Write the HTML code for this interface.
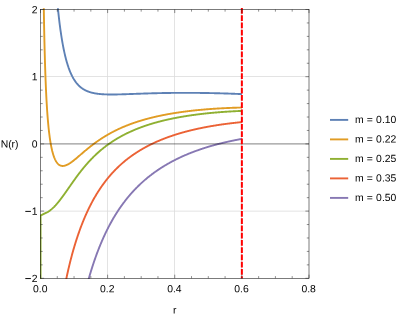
<!DOCTYPE html>
<html><head><meta charset="utf-8"><style>html,body{margin:0;padding:0;background:#fff}body{width:403px;height:319px;position:relative;overflow:hidden;font-family:"Liberation Sans",sans-serif}</style></head><body>
<svg width="403" height="319" viewBox="0 0 403 319" style="position:absolute;left:0;top:0">
<defs><clipPath id="cp"><rect x="40.0" y="8.25" width="269.5" height="270.85"/></clipPath><filter id="gs" x="-5%" y="-5%" width="110%" height="110%" color-interpolation-filters="sRGB"><feColorMatrix type="saturate" values="0"/></filter></defs>
<g stroke="#dcdcdc" stroke-width="0.8"><line x1="107.5" y1="9.45" x2="107.5" y2="278.3"/><line x1="174.5" y1="9.45" x2="174.5" y2="278.3"/><line x1="241.5" y1="9.45" x2="241.5" y2="278.3"/><line x1="40.5" y1="76.5" x2="309.0" y2="76.5"/><line x1="40.5" y1="211.15" x2="309.0" y2="211.15"/></g>
<g clip-path="url(#cp)">
<path d="M40.50,-57.70 L53.06,-57.70 L53.34,-55.87 L53.62,-50.55 L53.90,-45.47 L54.17,-40.60 L54.45,-35.95 L54.73,-31.50 L55.01,-27.23 L55.29,-23.13 L55.57,-19.21 L55.84,-15.44 L56.12,-11.82 L56.40,-8.34 L56.68,-5.00 L56.96,-1.79 L57.24,1.31 L57.52,4.29 L57.79,7.16 L58.07,9.92 L58.35,12.58 L58.63,15.15 L58.91,17.63 L59.19,20.02 L59.46,22.32 L59.74,24.55 L60.02,26.70 L60.30,28.78 L60.58,30.78 L60.86,32.72 L61.14,34.60 L61.41,36.41 L61.69,38.16 L61.97,39.86 L62.25,41.50 L62.53,43.09 L62.81,44.62 L63.08,46.11 L63.36,47.55 L63.64,48.95 L63.92,50.30 L64.20,51.61 L64.48,52.87 L64.76,54.10 L65.03,55.29 L65.31,56.45 L65.59,57.57 L65.87,58.65 L66.15,59.70 L66.43,60.72 L66.70,61.71 L66.98,62.67 L67.26,63.60 L67.54,64.51 L67.82,65.38 L68.10,66.23 L68.38,67.06 L68.65,67.86 L68.93,68.63 L69.21,69.39 L69.49,70.12 L69.77,70.83 L70.05,71.52 L70.32,72.19 L70.60,72.84 L70.88,73.47 L71.16,74.09 L71.44,74.68 L71.72,75.26 L72.00,75.82 L72.27,76.37 L72.55,76.90 L72.83,77.42 L73.11,77.92 L73.39,78.40 L73.67,78.87 L73.94,79.33 L74.22,79.78 L74.50,80.21 L74.78,80.63 L75.06,81.04 L75.34,81.44 L75.62,81.83 L75.89,82.20 L76.17,82.57 L76.45,82.92 L76.73,83.27 L77.01,83.60 L77.29,83.93 L77.56,84.25 L77.84,84.55 L78.12,84.85 L78.40,85.14 L78.68,85.43 L78.96,85.70 L79.24,85.97 L79.51,86.23 L79.79,86.48 L80.07,86.73 L80.35,86.97 L80.63,87.20 L80.91,87.42 L81.18,87.64 L81.46,87.86 L81.74,88.06 L82.02,88.27 L82.30,88.46 L82.58,88.65 L82.86,88.84 L83.13,89.02 L83.41,89.19 L83.69,89.36 L83.97,89.53 L84.25,89.69 L84.53,89.84 L84.80,90.00 L85.08,90.14 L85.36,90.29 L85.64,90.43 L85.92,90.56 L86.20,90.69 L86.48,90.82 L86.75,90.94 L87.03,91.06 L87.31,91.18 L87.59,91.30 L87.87,91.41 L88.15,91.51 L88.43,91.62 L88.70,91.72 L88.98,91.82 L89.26,91.91 L89.54,92.01 L89.82,92.10 L90.10,92.18 L90.37,92.27 L90.65,92.35 L90.93,92.43 L91.21,92.51 L91.49,92.58 L91.77,92.66 L92.05,92.73 L92.32,92.80 L92.60,92.86 L92.88,92.93 L93.16,92.99 L93.44,93.05 L93.72,93.11 L93.99,93.17 L94.27,93.22 L94.55,93.28 L94.83,93.33 L95.11,93.38 L95.39,93.43 L95.67,93.47 L95.94,93.52 L96.22,93.56 L96.50,93.61 L96.78,93.65 L97.06,93.69 L97.34,93.72 L97.61,93.76 L97.89,93.80 L98.17,93.83 L98.45,93.86 L98.73,93.90 L99.01,93.93 L99.29,93.96 L99.56,93.99 L99.84,94.01 L100.12,94.04 L100.40,94.07 L100.68,94.09 L100.96,94.11 L101.23,94.14 L101.51,94.16 L101.79,94.18 L102.07,94.20 L102.35,94.22 L102.63,94.24 L102.91,94.25 L103.18,94.27 L103.46,94.29 L103.74,94.30 L104.02,94.32 L104.30,94.33 L104.58,94.34 L104.85,94.36 L105.13,94.37 L105.41,94.38 L105.69,94.39 L105.97,94.40 L106.25,94.41 L106.53,94.42 L106.80,94.42 L107.08,94.43 L107.36,94.44 L107.64,94.45 L107.92,94.45 L108.20,94.46 L108.47,94.46 L108.75,94.47 L109.03,94.47 L109.31,94.47 L109.59,94.48 L109.87,94.48 L110.15,94.48 L110.42,94.48 L110.70,94.49 L110.98,94.49 L111.26,94.49 L111.54,94.49 L111.82,94.49 L112.09,94.49 L112.37,94.49 L112.65,94.49 L112.93,94.48 L113.21,94.48 L113.49,94.48 L113.77,94.48 L114.04,94.48 L114.32,94.47 L114.60,94.47 L114.88,94.47 L115.16,94.46 L115.44,94.46 L115.71,94.46 L115.99,94.45 L116.27,94.45 L116.55,94.44 L116.83,94.44 L117.11,94.43 L117.39,94.43 L117.66,94.42 L117.94,94.42 L118.22,94.41 L118.50,94.40 L118.78,94.40 L119.06,94.39 L119.33,94.38 L119.61,94.38 L119.89,94.37 L120.17,94.36 L120.45,94.36 L120.73,94.35 L121.01,94.34 L121.28,94.33 L121.56,94.33 L121.84,94.32 L122.12,94.31 L122.40,94.30 L122.68,94.29 L122.95,94.29 L123.23,94.28 L123.51,94.27 L123.79,94.26 L124.07,94.25 L124.35,94.24 L124.63,94.23 L124.90,94.22 L125.18,94.22 L125.46,94.21 L125.74,94.20 L126.02,94.19 L126.30,94.18 L126.57,94.17 L126.85,94.16 L127.13,94.15 L127.41,94.14 L127.69,94.13 L127.97,94.12 L128.25,94.11 L128.52,94.10 L128.80,94.09 L129.08,94.08 L129.36,94.07 L129.64,94.06 L129.92,94.05 L130.19,94.04 L130.47,94.03 L130.75,94.02 L131.03,94.01 L131.31,94.00 L131.59,93.99 L131.87,93.99 L132.14,93.98 L132.42,93.97 L132.70,93.96 L132.98,93.94 L133.26,93.93 L133.54,93.92 L133.82,93.91 L134.09,93.90 L134.37,93.89 L134.65,93.88 L134.93,93.87 L135.21,93.86 L135.49,93.85 L135.76,93.84 L136.04,93.83 L136.32,93.82 L136.60,93.81 L136.88,93.80 L137.16,93.79 L137.44,93.78 L137.71,93.78 L137.99,93.77 L138.27,93.76 L138.55,93.75 L138.83,93.74 L139.11,93.73 L139.38,93.72 L139.66,93.71 L139.94,93.70 L140.22,93.69 L140.50,93.68 L140.78,93.67 L141.06,93.66 L141.33,93.65 L141.61,93.64 L141.89,93.63 L142.17,93.62 L142.45,93.61 L142.73,93.60 L143.00,93.59 L143.28,93.58 L143.56,93.57 L143.84,93.56 L144.12,93.55 L144.40,93.55 L144.68,93.54 L144.95,93.53 L145.23,93.52 L145.51,93.51 L145.79,93.50 L146.07,93.49 L146.35,93.48 L146.62,93.47 L146.90,93.46 L147.18,93.46 L147.46,93.45 L147.74,93.44 L148.02,93.43 L148.30,93.42 L148.57,93.41 L148.85,93.40 L149.13,93.40 L149.41,93.39 L149.69,93.38 L149.97,93.37 L150.24,93.36 L150.52,93.36 L150.80,93.35 L151.08,93.34 L151.36,93.33 L151.64,93.32 L151.92,93.32 L152.19,93.31 L152.47,93.30 L152.75,93.29 L153.03,93.29 L153.31,93.28 L153.59,93.27 L153.86,93.26 L154.14,93.26 L154.42,93.25 L154.70,93.24 L154.98,93.23 L155.26,93.23 L155.54,93.22 L155.81,93.21 L156.09,93.21 L156.37,93.20 L156.65,93.19 L156.93,93.18 L157.21,93.18 L157.48,93.17 L157.76,93.16 L158.04,93.16 L158.32,93.15 L158.60,93.15 L158.88,93.14 L159.16,93.13 L159.43,93.13 L159.71,93.12 L159.99,93.11 L160.27,93.11 L160.55,93.10 L160.83,93.10 L161.10,93.09 L161.38,93.08 L161.66,93.08 L161.94,93.07 L162.22,93.07 L162.50,93.06 L162.78,93.06 L163.05,93.05 L163.33,93.05 L163.61,93.04 L163.89,93.04 L164.17,93.03 L164.45,93.03 L164.72,93.02 L165.00,93.02 L165.28,93.01 L165.56,93.01 L165.84,93.00 L166.12,93.00 L166.40,92.99 L166.67,92.99 L166.95,92.98 L167.23,92.98 L167.51,92.97 L167.79,92.97 L168.07,92.97 L168.34,92.96 L168.62,92.96 L168.90,92.95 L169.18,92.95 L169.46,92.95 L169.74,92.94 L170.02,92.94 L170.29,92.93 L170.57,92.93 L170.85,92.93 L171.13,92.92 L171.41,92.92 L171.69,92.92 L171.96,92.91 L172.24,92.91 L172.52,92.91 L172.80,92.90 L173.08,92.90 L173.36,92.90 L173.64,92.90 L173.91,92.89 L174.19,92.89 L174.47,92.89 L174.75,92.88 L175.03,92.88 L175.31,92.88 L175.59,92.88 L175.86,92.87 L176.14,92.87 L176.42,92.87 L176.70,92.87 L176.98,92.87 L177.26,92.86 L177.53,92.86 L177.81,92.86 L178.09,92.86 L178.37,92.86 L178.65,92.86 L178.93,92.85 L179.21,92.85 L179.48,92.85 L179.76,92.85 L180.04,92.85 L180.32,92.85 L180.60,92.85 L180.88,92.84 L181.15,92.84 L181.43,92.84 L181.71,92.84 L181.99,92.84 L182.27,92.84 L182.55,92.84 L182.83,92.84 L183.10,92.84 L183.38,92.84 L183.66,92.84 L183.94,92.84 L184.22,92.84 L184.50,92.84 L184.77,92.84 L185.05,92.84 L185.33,92.84 L185.61,92.84 L185.89,92.84 L186.17,92.84 L186.45,92.84 L186.72,92.84 L187.00,92.84 L187.28,92.84 L187.56,92.84 L187.84,92.84 L188.12,92.84 L188.39,92.84 L188.67,92.84 L188.95,92.84 L189.23,92.84 L189.51,92.84 L189.79,92.84 L190.07,92.84 L190.34,92.85 L190.62,92.85 L190.90,92.85 L191.18,92.85 L191.46,92.85 L191.74,92.85 L192.01,92.85 L192.29,92.86 L192.57,92.86 L192.85,92.86 L193.13,92.86 L193.41,92.86 L193.69,92.86 L193.96,92.87 L194.24,92.87 L194.52,92.87 L194.80,92.87 L195.08,92.87 L195.36,92.88 L195.63,92.88 L195.91,92.88 L196.19,92.88 L196.47,92.89 L196.75,92.89 L197.03,92.89 L197.31,92.89 L197.58,92.90 L197.86,92.90 L198.14,92.90 L198.42,92.91 L198.70,92.91 L198.98,92.91 L199.25,92.92 L199.53,92.92 L199.81,92.92 L200.09,92.93 L200.37,92.93 L200.65,92.93 L200.93,92.94 L201.20,92.94 L201.48,92.94 L201.76,92.95 L202.04,92.95 L202.32,92.95 L202.60,92.96 L202.87,92.96 L203.15,92.97 L203.43,92.97 L203.71,92.97 L203.99,92.98 L204.27,92.98 L204.55,92.99 L204.82,92.99 L205.10,93.00 L205.38,93.00 L205.66,93.01 L205.94,93.01 L206.22,93.01 L206.49,93.02 L206.77,93.02 L207.05,93.03 L207.33,93.03 L207.61,93.04 L207.89,93.04 L208.17,93.05 L208.44,93.05 L208.72,93.06 L209.00,93.07 L209.28,93.07 L209.56,93.08 L209.84,93.08 L210.11,93.09 L210.39,93.09 L210.67,93.10 L210.95,93.10 L211.23,93.11 L211.51,93.12 L211.79,93.12 L212.06,93.13 L212.34,93.13 L212.62,93.14 L212.90,93.15 L213.18,93.15 L213.46,93.16 L213.73,93.17 L214.01,93.17 L214.29,93.18 L214.57,93.18 L214.85,93.19 L215.13,93.20 L215.41,93.20 L215.68,93.21 L215.96,93.22 L216.24,93.22 L216.52,93.23 L216.80,93.24 L217.08,93.25 L217.35,93.25 L217.63,93.26 L217.91,93.27 L218.19,93.27 L218.47,93.28 L218.75,93.29 L219.03,93.30 L219.30,93.30 L219.58,93.31 L219.86,93.32 L220.14,93.33 L220.42,93.33 L220.70,93.34 L220.98,93.35 L221.25,93.36 L221.53,93.37 L221.81,93.37 L222.09,93.38 L222.37,93.39 L222.65,93.40 L222.92,93.41 L223.20,93.42 L223.48,93.42 L223.76,93.43 L224.04,93.44 L224.32,93.45 L224.60,93.46 L224.87,93.47 L225.15,93.48 L225.43,93.48 L225.71,93.49 L225.99,93.50 L226.27,93.51 L226.54,93.52 L226.82,93.53 L227.10,93.54 L227.38,93.55 L227.66,93.56 L227.94,93.57 L228.22,93.57 L228.49,93.58 L228.77,93.59 L229.05,93.60 L229.33,93.61 L229.61,93.62 L229.89,93.63 L230.16,93.64 L230.44,93.65 L230.72,93.66 L231.00,93.67 L231.28,93.68 L231.56,93.69 L231.84,93.70 L232.11,93.71 L232.39,93.72 L232.67,93.73 L232.95,93.74 L233.23,93.75 L233.51,93.76 L233.78,93.77 L234.06,93.78 L234.34,93.79 L234.62,93.80 L234.90,93.81 L235.18,93.83 L235.46,93.84 L235.73,93.85 L236.01,93.86 L236.29,93.87 L236.57,93.88 L236.85,93.89 L237.13,93.90 L237.40,93.91 L237.68,93.92 L237.96,93.93 L238.24,93.95 L238.52,93.96 L238.80,93.97 L239.08,93.98 L239.35,93.99 L239.63,94.00 L239.91,94.01 L240.19,94.03 L240.47,94.04 L240.75,94.05 L241.02,94.06 L241.30,94.07 L241.58,94.09 L241.86,94.10" fill="none" stroke="#5e81b5" stroke-width="1.9" stroke-linejoin="miter"/>
<path d="M40.50,-57.70 L42.96,-57.70 L42.99,-57.51 L43.03,-53.41 L43.07,-49.38 L43.11,-45.41 L43.15,-41.50 L43.19,-37.65 L43.23,-33.85 L43.27,-30.12 L43.32,-26.44 L43.36,-22.82 L43.40,-19.25 L43.45,-15.74 L43.49,-12.28 L43.54,-8.87 L43.59,-5.52 L43.63,-2.22 L43.68,1.04 L43.73,4.24 L43.78,7.39 L43.83,10.50 L43.88,13.56 L43.93,16.57 L43.99,19.53 L44.04,22.45 L44.09,25.32 L44.15,28.15 L44.21,30.94 L44.26,33.69 L44.32,36.39 L44.38,39.05 L44.44,41.67 L44.50,44.24 L44.56,46.78 L44.62,49.28 L44.69,51.74 L44.75,54.16 L44.82,56.55 L44.88,58.90 L44.95,61.21 L45.02,63.48 L45.09,65.72 L45.16,67.92 L45.23,70.09 L45.30,72.23 L45.37,74.33 L45.45,76.40 L45.53,78.44 L45.60,80.44 L45.68,82.41 L45.76,84.36 L45.84,86.27 L45.92,88.15 L46.01,90.00 L46.09,91.82 L46.18,93.61 L46.26,95.37 L46.35,97.10 L46.44,98.81 L46.53,100.48 L46.63,102.13 L46.72,103.76 L46.82,105.35 L46.91,106.92 L47.01,108.47 L47.11,109.99 L47.21,111.48 L47.49,115.34 L47.77,118.89 L48.05,122.16 L48.33,125.18 L48.60,127.98 L48.88,130.57 L49.16,132.98 L49.44,135.21 L49.72,137.30 L50.00,139.25 L50.28,141.07 L50.55,142.77 L50.83,144.36 L51.11,145.86 L51.39,147.25 L51.67,148.57 L51.95,149.80 L52.22,150.96 L52.50,152.04 L52.78,153.06 L53.06,154.02 L53.34,154.92 L53.62,155.77 L53.90,156.57 L54.17,157.32 L54.45,158.02 L54.73,158.68 L55.01,159.30 L55.29,159.88 L55.57,160.42 L55.84,160.93 L56.12,161.40 L56.40,161.85 L56.68,162.26 L56.96,162.65 L57.24,163.00 L57.52,163.34 L57.79,163.64 L58.07,163.93 L58.35,164.19 L58.63,164.43 L58.91,164.65 L59.19,164.85 L59.46,165.03 L59.74,165.19 L60.02,165.33 L60.30,165.46 L60.58,165.57 L60.86,165.66 L61.14,165.74 L61.41,165.81 L61.69,165.86 L61.97,165.90 L62.25,165.93 L62.53,165.94 L62.81,165.95 L63.08,165.94 L63.36,165.92 L63.64,165.89 L63.92,165.85 L64.20,165.80 L64.48,165.74 L64.76,165.68 L65.03,165.60 L65.31,165.52 L65.59,165.43 L65.87,165.33 L66.15,165.22 L66.43,165.11 L66.70,164.99 L66.98,164.86 L67.26,164.73 L67.54,164.59 L67.82,164.45 L68.10,164.30 L68.38,164.14 L68.65,163.98 L68.93,163.82 L69.21,163.65 L69.49,163.48 L69.77,163.30 L70.05,163.12 L70.32,162.93 L70.60,162.74 L70.88,162.55 L71.16,162.35 L71.44,162.16 L71.72,161.95 L72.00,161.75 L72.27,161.54 L72.55,161.33 L72.83,161.12 L73.11,160.91 L73.39,160.69 L73.67,160.47 L73.94,160.25 L74.22,160.03 L74.50,159.81 L74.78,159.58 L75.06,159.35 L75.34,159.13 L75.62,158.90 L75.89,158.67 L76.17,158.43 L76.45,158.20 L76.73,157.97 L77.01,157.73 L77.29,157.50 L77.56,157.26 L77.84,157.02 L78.12,156.79 L78.40,156.55 L78.68,156.31 L78.96,156.07 L79.24,155.84 L79.51,155.60 L79.79,155.36 L80.07,155.12 L80.35,154.88 L80.63,154.64 L80.91,154.40 L81.18,154.16 L81.46,153.92 L81.74,153.68 L82.02,153.44 L82.30,153.21 L82.58,152.97 L82.86,152.73 L83.13,152.49 L83.41,152.26 L83.69,152.02 L83.97,151.78 L84.25,151.55 L84.53,151.31 L84.80,151.08 L85.08,150.84 L85.36,150.61 L85.64,150.38 L85.92,150.15 L86.20,149.91 L86.48,149.68 L86.75,149.45 L87.03,149.22 L87.31,148.99 L87.59,148.77 L87.87,148.54 L88.15,148.31 L88.43,148.09 L88.70,147.86 L88.98,147.64 L89.26,147.42 L89.54,147.19 L89.82,146.97 L90.10,146.75 L90.37,146.53 L90.65,146.31 L90.93,146.09 L91.21,145.88 L91.49,145.66 L91.77,145.45 L92.05,145.23 L92.32,145.02 L92.60,144.81 L92.88,144.59 L93.16,144.38 L93.44,144.17 L93.72,143.97 L93.99,143.76 L94.27,143.55 L94.55,143.34 L94.83,143.14 L95.11,142.94 L95.39,142.73 L95.67,142.53 L95.94,142.33 L96.22,142.13 L96.50,141.93 L96.78,141.73 L97.06,141.54 L97.34,141.34 L97.61,141.14 L97.89,140.95 L98.17,140.76 L98.45,140.57 L98.73,140.37 L99.01,140.18 L99.29,139.99 L99.56,139.81 L99.84,139.62 L100.12,139.43 L100.40,139.25 L100.68,139.06 L100.96,138.88 L101.23,138.70 L101.51,138.51 L101.79,138.33 L102.07,138.15 L102.35,137.98 L102.63,137.80 L102.91,137.62 L103.18,137.44 L103.46,137.27 L103.74,137.10 L104.02,136.92 L104.30,136.75 L104.58,136.58 L104.85,136.41 L105.13,136.24 L105.41,136.07 L105.69,135.90 L105.97,135.74 L106.25,135.57 L106.53,135.41 L106.80,135.24 L107.08,135.08 L107.36,134.92 L107.64,134.75 L107.92,134.59 L108.20,134.43 L108.47,134.28 L108.75,134.12 L109.03,133.96 L109.31,133.80 L109.59,133.65 L109.87,133.49 L110.15,133.34 L110.42,133.19 L110.70,133.04 L110.98,132.88 L111.26,132.73 L111.54,132.58 L111.82,132.44 L112.09,132.29 L112.37,132.14 L112.65,131.99 L112.93,131.85 L113.21,131.70 L113.49,131.56 L113.77,131.42 L114.04,131.27 L114.32,131.13 L114.60,130.99 L114.88,130.85 L115.16,130.71 L115.44,130.57 L115.71,130.44 L115.99,130.30 L116.27,130.16 L116.55,130.03 L116.83,129.89 L117.11,129.76 L117.39,129.63 L117.66,129.49 L117.94,129.36 L118.22,129.23 L118.50,129.10 L118.78,128.97 L119.06,128.84 L119.33,128.71 L119.61,128.58 L119.89,128.46 L120.17,128.33 L120.45,128.21 L120.73,128.08 L121.01,127.96 L121.28,127.83 L121.56,127.71 L121.84,127.59 L122.12,127.47 L122.40,127.35 L122.68,127.23 L122.95,127.11 L123.23,126.99 L123.51,126.87 L123.79,126.75 L124.07,126.64 L124.35,126.52 L124.63,126.40 L124.90,126.29 L125.18,126.17 L125.46,126.06 L125.74,125.95 L126.02,125.83 L126.30,125.72 L126.57,125.61 L126.85,125.50 L127.13,125.39 L127.41,125.28 L127.69,125.17 L127.97,125.06 L128.25,124.96 L128.52,124.85 L128.80,124.74 L129.08,124.64 L129.36,124.53 L129.64,124.42 L129.92,124.32 L130.19,124.22 L130.47,124.11 L130.75,124.01 L131.03,123.91 L131.31,123.81 L131.59,123.71 L131.87,123.61 L132.14,123.51 L132.42,123.41 L132.70,123.31 L132.98,123.21 L133.26,123.11 L133.54,123.01 L133.82,122.92 L134.09,122.82 L134.37,122.72 L134.65,122.63 L134.93,122.53 L135.21,122.44 L135.49,122.35 L135.76,122.25 L136.04,122.16 L136.32,122.07 L136.60,121.98 L136.88,121.88 L137.16,121.79 L137.44,121.70 L137.71,121.61 L137.99,121.52 L138.27,121.44 L138.55,121.35 L138.83,121.26 L139.11,121.17 L139.38,121.08 L139.66,121.00 L139.94,120.91 L140.22,120.83 L140.50,120.74 L140.78,120.66 L141.06,120.57 L141.33,120.49 L141.61,120.40 L141.89,120.32 L142.17,120.24 L142.45,120.16 L142.73,120.07 L143.00,119.99 L143.28,119.91 L143.56,119.83 L143.84,119.75 L144.12,119.67 L144.40,119.59 L144.68,119.51 L144.95,119.44 L145.23,119.36 L145.51,119.28 L145.79,119.20 L146.07,119.13 L146.35,119.05 L146.62,118.97 L146.90,118.90 L147.18,118.82 L147.46,118.75 L147.74,118.68 L148.02,118.60 L148.30,118.53 L148.57,118.45 L148.85,118.38 L149.13,118.31 L149.41,118.24 L149.69,118.17 L149.97,118.09 L150.24,118.02 L150.52,117.95 L150.80,117.88 L151.08,117.81 L151.36,117.74 L151.64,117.67 L151.92,117.61 L152.19,117.54 L152.47,117.47 L152.75,117.40 L153.03,117.33 L153.31,117.27 L153.59,117.20 L153.86,117.13 L154.14,117.07 L154.42,117.00 L154.70,116.94 L154.98,116.87 L155.26,116.81 L155.54,116.74 L155.81,116.68 L156.09,116.62 L156.37,116.55 L156.65,116.49 L156.93,116.43 L157.21,116.37 L157.48,116.30 L157.76,116.24 L158.04,116.18 L158.32,116.12 L158.60,116.06 L158.88,116.00 L159.16,115.94 L159.43,115.88 L159.71,115.82 L159.99,115.76 L160.27,115.70 L160.55,115.65 L160.83,115.59 L161.10,115.53 L161.38,115.47 L161.66,115.41 L161.94,115.36 L162.22,115.30 L162.50,115.25 L162.78,115.19 L163.05,115.13 L163.33,115.08 L163.61,115.02 L163.89,114.97 L164.17,114.91 L164.45,114.86 L164.72,114.81 L165.00,114.75 L165.28,114.70 L165.56,114.65 L165.84,114.59 L166.12,114.54 L166.40,114.49 L166.67,114.44 L166.95,114.38 L167.23,114.33 L167.51,114.28 L167.79,114.23 L168.07,114.18 L168.34,114.13 L168.62,114.08 L168.90,114.03 L169.18,113.98 L169.46,113.93 L169.74,113.88 L170.02,113.83 L170.29,113.78 L170.57,113.74 L170.85,113.69 L171.13,113.64 L171.41,113.59 L171.69,113.55 L171.96,113.50 L172.24,113.45 L172.52,113.41 L172.80,113.36 L173.08,113.31 L173.36,113.27 L173.64,113.22 L173.91,113.18 L174.19,113.13 L174.47,113.09 L174.75,113.04 L175.03,113.00 L175.31,112.95 L175.59,112.91 L175.86,112.87 L176.14,112.82 L176.42,112.78 L176.70,112.74 L176.98,112.70 L177.26,112.65 L177.53,112.61 L177.81,112.57 L178.09,112.53 L178.37,112.49 L178.65,112.45 L178.93,112.40 L179.21,112.36 L179.48,112.32 L179.76,112.28 L180.04,112.24 L180.32,112.20 L180.60,112.16 L180.88,112.12 L181.15,112.08 L181.43,112.05 L181.71,112.01 L181.99,111.97 L182.27,111.93 L182.55,111.89 L182.83,111.85 L183.10,111.82 L183.38,111.78 L183.66,111.74 L183.94,111.70 L184.22,111.67 L184.50,111.63 L184.77,111.59 L185.05,111.56 L185.33,111.52 L185.61,111.49 L185.89,111.45 L186.17,111.41 L186.45,111.38 L186.72,111.34 L187.00,111.31 L187.28,111.27 L187.56,111.24 L187.84,111.21 L188.12,111.17 L188.39,111.14 L188.67,111.10 L188.95,111.07 L189.23,111.04 L189.51,111.00 L189.79,110.97 L190.07,110.94 L190.34,110.91 L190.62,110.87 L190.90,110.84 L191.18,110.81 L191.46,110.78 L191.74,110.75 L192.01,110.72 L192.29,110.68 L192.57,110.65 L192.85,110.62 L193.13,110.59 L193.41,110.56 L193.69,110.53 L193.96,110.50 L194.24,110.47 L194.52,110.44 L194.80,110.41 L195.08,110.38 L195.36,110.35 L195.63,110.32 L195.91,110.30 L196.19,110.27 L196.47,110.24 L196.75,110.21 L197.03,110.18 L197.31,110.15 L197.58,110.13 L197.86,110.10 L198.14,110.07 L198.42,110.04 L198.70,110.02 L198.98,109.99 L199.25,109.96 L199.53,109.94 L199.81,109.91 L200.09,109.88 L200.37,109.86 L200.65,109.83 L200.93,109.81 L201.20,109.78 L201.48,109.75 L201.76,109.73 L202.04,109.70 L202.32,109.68 L202.60,109.65 L202.87,109.63 L203.15,109.60 L203.43,109.58 L203.71,109.56 L203.99,109.53 L204.27,109.51 L204.55,109.48 L204.82,109.46 L205.10,109.44 L205.38,109.41 L205.66,109.39 L205.94,109.37 L206.22,109.35 L206.49,109.32 L206.77,109.30 L207.05,109.28 L207.33,109.26 L207.61,109.23 L207.89,109.21 L208.17,109.19 L208.44,109.17 L208.72,109.15 L209.00,109.13 L209.28,109.11 L209.56,109.08 L209.84,109.06 L210.11,109.04 L210.39,109.02 L210.67,109.00 L210.95,108.98 L211.23,108.96 L211.51,108.94 L211.79,108.92 L212.06,108.90 L212.34,108.88 L212.62,108.86 L212.90,108.84 L213.18,108.82 L213.46,108.81 L213.73,108.79 L214.01,108.77 L214.29,108.75 L214.57,108.73 L214.85,108.71 L215.13,108.70 L215.41,108.68 L215.68,108.66 L215.96,108.64 L216.24,108.62 L216.52,108.61 L216.80,108.59 L217.08,108.57 L217.35,108.56 L217.63,108.54 L217.91,108.52 L218.19,108.50 L218.47,108.49 L218.75,108.47 L219.03,108.46 L219.30,108.44 L219.58,108.42 L219.86,108.41 L220.14,108.39 L220.42,108.38 L220.70,108.36 L220.98,108.35 L221.25,108.33 L221.53,108.32 L221.81,108.30 L222.09,108.29 L222.37,108.27 L222.65,108.26 L222.92,108.24 L223.20,108.23 L223.48,108.21 L223.76,108.20 L224.04,108.19 L224.32,108.17 L224.60,108.16 L224.87,108.14 L225.15,108.13 L225.43,108.12 L225.71,108.10 L225.99,108.09 L226.27,108.08 L226.54,108.07 L226.82,108.05 L227.10,108.04 L227.38,108.03 L227.66,108.02 L227.94,108.00 L228.22,107.99 L228.49,107.98 L228.77,107.97 L229.05,107.96 L229.33,107.94 L229.61,107.93 L229.89,107.92 L230.16,107.91 L230.44,107.90 L230.72,107.89 L231.00,107.88 L231.28,107.87 L231.56,107.86 L231.84,107.84 L232.11,107.83 L232.39,107.82 L232.67,107.81 L232.95,107.80 L233.23,107.79 L233.51,107.78 L233.78,107.77 L234.06,107.76 L234.34,107.75 L234.62,107.75 L234.90,107.74 L235.18,107.73 L235.46,107.72 L235.73,107.71 L236.01,107.70 L236.29,107.69 L236.57,107.68 L236.85,107.67 L237.13,107.66 L237.40,107.66 L237.68,107.65 L237.96,107.64 L238.24,107.63 L238.52,107.62 L238.80,107.62 L239.08,107.61 L239.35,107.60 L239.63,107.59 L239.91,107.59 L240.19,107.58 L240.47,107.57 L240.75,107.56 L241.02,107.56 L241.30,107.55 L241.58,107.54 L241.86,107.54" fill="none" stroke="#e19c24" stroke-width="1.9" stroke-linejoin="miter"/>
<path d="M40.55,291.74 L40.55,215.60 L40.90,215.40 L45.87,212.93 L46.02,212.86 L46.17,212.80 L46.32,212.73 L46.47,212.66 L46.62,212.59 L46.76,212.51 L46.91,212.44 L47.06,212.36 L47.21,212.28 L47.49,212.13 L47.77,211.97 L48.05,211.81 L48.33,211.64 L48.60,211.46 L48.88,211.28 L49.16,211.09 L49.44,210.90 L49.72,210.70 L50.00,210.49 L50.28,210.28 L50.55,210.07 L50.83,209.85 L51.11,209.62 L51.39,209.39 L51.67,209.15 L51.95,208.91 L52.22,208.66 L52.50,208.41 L52.78,208.15 L53.06,207.89 L53.34,207.62 L53.62,207.35 L53.90,207.08 L54.17,206.80 L54.45,206.51 L54.73,206.22 L55.01,205.93 L55.29,205.63 L55.57,205.33 L55.84,205.02 L56.12,204.71 L56.40,204.40 L56.68,204.08 L56.96,203.75 L57.24,203.43 L57.52,203.10 L57.79,202.77 L58.07,202.43 L58.35,202.09 L58.63,201.75 L58.91,201.40 L59.19,201.05 L59.46,200.70 L59.74,200.35 L60.02,199.99 L60.30,199.63 L60.58,199.26 L60.86,198.90 L61.14,198.53 L61.41,198.16 L61.69,197.79 L61.97,197.41 L62.25,197.04 L62.53,196.66 L62.81,196.28 L63.08,195.90 L63.36,195.51 L63.64,195.13 L63.92,194.74 L64.20,194.35 L64.48,193.96 L64.76,193.57 L65.03,193.18 L65.31,192.79 L65.59,192.39 L65.87,192.00 L66.15,191.60 L66.43,191.20 L66.70,190.81 L66.98,190.41 L67.26,190.01 L67.54,189.61 L67.82,189.21 L68.10,188.81 L68.38,188.41 L68.65,188.01 L68.93,187.61 L69.21,187.21 L69.49,186.81 L69.77,186.41 L70.05,186.02 L70.32,185.62 L70.60,185.22 L70.88,184.82 L71.16,184.42 L71.44,184.02 L71.72,183.63 L72.00,183.23 L72.27,182.84 L72.55,182.44 L72.83,182.05 L73.11,181.65 L73.39,181.26 L73.67,180.87 L73.94,180.48 L74.22,180.09 L74.50,179.70 L74.78,179.32 L75.06,178.93 L75.34,178.55 L75.62,178.16 L75.89,177.78 L76.17,177.40 L76.45,177.02 L76.73,176.64 L77.01,176.26 L77.29,175.89 L77.56,175.52 L77.84,175.14 L78.12,174.77 L78.40,174.40 L78.68,174.03 L78.96,173.67 L79.24,173.30 L79.51,172.94 L79.79,172.58 L80.07,172.22 L80.35,171.86 L80.63,171.50 L80.91,171.14 L81.18,170.79 L81.46,170.44 L81.74,170.09 L82.02,169.74 L82.30,169.39 L82.58,169.05 L82.86,168.70 L83.13,168.36 L83.41,168.02 L83.69,167.68 L83.97,167.35 L84.25,167.01 L84.53,166.68 L84.80,166.35 L85.08,166.02 L85.36,165.69 L85.64,165.37 L85.92,165.04 L86.20,164.72 L86.48,164.40 L86.75,164.08 L87.03,163.76 L87.31,163.45 L87.59,163.13 L87.87,162.82 L88.15,162.51 L88.43,162.20 L88.70,161.90 L88.98,161.59 L89.26,161.29 L89.54,160.99 L89.82,160.69 L90.10,160.39 L90.37,160.10 L90.65,159.80 L90.93,159.51 L91.21,159.22 L91.49,158.93 L91.77,158.64 L92.05,158.36 L92.32,158.07 L92.60,157.79 L92.88,157.51 L93.16,157.23 L93.44,156.95 L93.72,156.68 L93.99,156.40 L94.27,156.13 L94.55,155.86 L94.83,155.59 L95.11,155.33 L95.39,155.06 L95.67,154.80 L95.94,154.53 L96.22,154.27 L96.50,154.01 L96.78,153.75 L97.06,153.50 L97.34,153.24 L97.61,152.99 L97.89,152.74 L98.17,152.49 L98.45,152.24 L98.73,151.99 L99.01,151.75 L99.29,151.50 L99.56,151.26 L99.84,151.02 L100.12,150.78 L100.40,150.54 L100.68,150.31 L100.96,150.07 L101.23,149.84 L101.51,149.60 L101.79,149.37 L102.07,149.14 L102.35,148.91 L102.63,148.69 L102.91,148.46 L103.18,148.24 L103.46,148.02 L103.74,147.79 L104.02,147.57 L104.30,147.36 L104.58,147.14 L104.85,146.92 L105.13,146.71 L105.41,146.49 L105.69,146.28 L105.97,146.07 L106.25,145.86 L106.53,145.65 L106.80,145.45 L107.08,145.24 L107.36,145.03 L107.64,144.83 L107.92,144.63 L108.20,144.43 L108.47,144.23 L108.75,144.03 L109.03,143.83 L109.31,143.64 L109.59,143.44 L109.87,143.25 L110.15,143.05 L110.42,142.86 L110.70,142.67 L110.98,142.48 L111.26,142.30 L111.54,142.11 L111.82,141.92 L112.09,141.74 L112.37,141.55 L112.65,141.37 L112.93,141.19 L113.21,141.01 L113.49,140.83 L113.77,140.65 L114.04,140.47 L114.32,140.30 L114.60,140.12 L114.88,139.95 L115.16,139.77 L115.44,139.60 L115.71,139.43 L115.99,139.26 L116.27,139.09 L116.55,138.92 L116.83,138.76 L117.11,138.59 L117.39,138.43 L117.66,138.26 L117.94,138.10 L118.22,137.94 L118.50,137.77 L118.78,137.61 L119.06,137.45 L119.33,137.29 L119.61,137.14 L119.89,136.98 L120.17,136.82 L120.45,136.67 L120.73,136.51 L121.01,136.36 L121.28,136.21 L121.56,136.06 L121.84,135.91 L122.12,135.76 L122.40,135.61 L122.68,135.46 L122.95,135.31 L123.23,135.17 L123.51,135.02 L123.79,134.88 L124.07,134.73 L124.35,134.59 L124.63,134.45 L124.90,134.30 L125.18,134.16 L125.46,134.02 L125.74,133.88 L126.02,133.75 L126.30,133.61 L126.57,133.47 L126.85,133.34 L127.13,133.20 L127.41,133.07 L127.69,132.93 L127.97,132.80 L128.25,132.67 L128.52,132.53 L128.80,132.40 L129.08,132.27 L129.36,132.14 L129.64,132.01 L129.92,131.89 L130.19,131.76 L130.47,131.63 L130.75,131.51 L131.03,131.38 L131.31,131.26 L131.59,131.13 L131.87,131.01 L132.14,130.89 L132.42,130.77 L132.70,130.64 L132.98,130.52 L133.26,130.40 L133.54,130.29 L133.82,130.17 L134.09,130.05 L134.37,129.93 L134.65,129.82 L134.93,129.70 L135.21,129.58 L135.49,129.47 L135.76,129.35 L136.04,129.24 L136.32,129.13 L136.60,129.02 L136.88,128.90 L137.16,128.79 L137.44,128.68 L137.71,128.57 L137.99,128.46 L138.27,128.36 L138.55,128.25 L138.83,128.14 L139.11,128.03 L139.38,127.93 L139.66,127.82 L139.94,127.72 L140.22,127.61 L140.50,127.51 L140.78,127.40 L141.06,127.30 L141.33,127.20 L141.61,127.10 L141.89,126.99 L142.17,126.89 L142.45,126.79 L142.73,126.69 L143.00,126.59 L143.28,126.49 L143.56,126.40 L143.84,126.30 L144.12,126.20 L144.40,126.11 L144.68,126.01 L144.95,125.91 L145.23,125.82 L145.51,125.72 L145.79,125.63 L146.07,125.54 L146.35,125.44 L146.62,125.35 L146.90,125.26 L147.18,125.17 L147.46,125.07 L147.74,124.98 L148.02,124.89 L148.30,124.80 L148.57,124.71 L148.85,124.63 L149.13,124.54 L149.41,124.45 L149.69,124.36 L149.97,124.27 L150.24,124.19 L150.52,124.10 L150.80,124.02 L151.08,123.93 L151.36,123.85 L151.64,123.76 L151.92,123.68 L152.19,123.59 L152.47,123.51 L152.75,123.43 L153.03,123.35 L153.31,123.27 L153.59,123.18 L153.86,123.10 L154.14,123.02 L154.42,122.94 L154.70,122.86 L154.98,122.78 L155.26,122.70 L155.54,122.63 L155.81,122.55 L156.09,122.47 L156.37,122.39 L156.65,122.32 L156.93,122.24 L157.21,122.16 L157.48,122.09 L157.76,122.01 L158.04,121.94 L158.32,121.86 L158.60,121.79 L158.88,121.72 L159.16,121.64 L159.43,121.57 L159.71,121.50 L159.99,121.42 L160.27,121.35 L160.55,121.28 L160.83,121.21 L161.10,121.14 L161.38,121.07 L161.66,121.00 L161.94,120.93 L162.22,120.86 L162.50,120.79 L162.78,120.72 L163.05,120.65 L163.33,120.59 L163.61,120.52 L163.89,120.45 L164.17,120.38 L164.45,120.32 L164.72,120.25 L165.00,120.19 L165.28,120.12 L165.56,120.06 L165.84,119.99 L166.12,119.93 L166.40,119.86 L166.67,119.80 L166.95,119.73 L167.23,119.67 L167.51,119.61 L167.79,119.55 L168.07,119.48 L168.34,119.42 L168.62,119.36 L168.90,119.30 L169.18,119.24 L169.46,119.18 L169.74,119.12 L170.02,119.06 L170.29,119.00 L170.57,118.94 L170.85,118.88 L171.13,118.82 L171.41,118.76 L171.69,118.70 L171.96,118.65 L172.24,118.59 L172.52,118.53 L172.80,118.47 L173.08,118.42 L173.36,118.36 L173.64,118.30 L173.91,118.25 L174.19,118.19 L174.47,118.14 L174.75,118.08 L175.03,118.03 L175.31,117.97 L175.59,117.92 L175.86,117.87 L176.14,117.81 L176.42,117.76 L176.70,117.71 L176.98,117.65 L177.26,117.60 L177.53,117.55 L177.81,117.50 L178.09,117.44 L178.37,117.39 L178.65,117.34 L178.93,117.29 L179.21,117.24 L179.48,117.19 L179.76,117.14 L180.04,117.09 L180.32,117.04 L180.60,116.99 L180.88,116.94 L181.15,116.89 L181.43,116.85 L181.71,116.80 L181.99,116.75 L182.27,116.70 L182.55,116.65 L182.83,116.61 L183.10,116.56 L183.38,116.51 L183.66,116.47 L183.94,116.42 L184.22,116.37 L184.50,116.33 L184.77,116.28 L185.05,116.24 L185.33,116.19 L185.61,116.15 L185.89,116.10 L186.17,116.06 L186.45,116.01 L186.72,115.97 L187.00,115.93 L187.28,115.88 L187.56,115.84 L187.84,115.80 L188.12,115.76 L188.39,115.71 L188.67,115.67 L188.95,115.63 L189.23,115.59 L189.51,115.55 L189.79,115.50 L190.07,115.46 L190.34,115.42 L190.62,115.38 L190.90,115.34 L191.18,115.30 L191.46,115.26 L191.74,115.22 L192.01,115.18 L192.29,115.14 L192.57,115.10 L192.85,115.06 L193.13,115.02 L193.41,114.99 L193.69,114.95 L193.96,114.91 L194.24,114.87 L194.52,114.83 L194.80,114.80 L195.08,114.76 L195.36,114.72 L195.63,114.69 L195.91,114.65 L196.19,114.61 L196.47,114.58 L196.75,114.54 L197.03,114.50 L197.31,114.47 L197.58,114.43 L197.86,114.40 L198.14,114.36 L198.42,114.33 L198.70,114.29 L198.98,114.26 L199.25,114.22 L199.53,114.19 L199.81,114.16 L200.09,114.12 L200.37,114.09 L200.65,114.06 L200.93,114.02 L201.20,113.99 L201.48,113.96 L201.76,113.92 L202.04,113.89 L202.32,113.86 L202.60,113.83 L202.87,113.80 L203.15,113.76 L203.43,113.73 L203.71,113.70 L203.99,113.67 L204.27,113.64 L204.55,113.61 L204.82,113.58 L205.10,113.55 L205.38,113.52 L205.66,113.49 L205.94,113.46 L206.22,113.43 L206.49,113.40 L206.77,113.37 L207.05,113.34 L207.33,113.31 L207.61,113.28 L207.89,113.25 L208.17,113.23 L208.44,113.20 L208.72,113.17 L209.00,113.14 L209.28,113.11 L209.56,113.09 L209.84,113.06 L210.11,113.03 L210.39,113.00 L210.67,112.98 L210.95,112.95 L211.23,112.92 L211.51,112.90 L211.79,112.87 L212.06,112.85 L212.34,112.82 L212.62,112.79 L212.90,112.77 L213.18,112.74 L213.46,112.72 L213.73,112.69 L214.01,112.67 L214.29,112.64 L214.57,112.62 L214.85,112.59 L215.13,112.57 L215.41,112.55 L215.68,112.52 L215.96,112.50 L216.24,112.47 L216.52,112.45 L216.80,112.43 L217.08,112.40 L217.35,112.38 L217.63,112.36 L217.91,112.34 L218.19,112.31 L218.47,112.29 L218.75,112.27 L219.03,112.25 L219.30,112.22 L219.58,112.20 L219.86,112.18 L220.14,112.16 L220.42,112.14 L220.70,112.12 L220.98,112.09 L221.25,112.07 L221.53,112.05 L221.81,112.03 L222.09,112.01 L222.37,111.99 L222.65,111.97 L222.92,111.95 L223.20,111.93 L223.48,111.91 L223.76,111.89 L224.04,111.87 L224.32,111.85 L224.60,111.83 L224.87,111.81 L225.15,111.80 L225.43,111.78 L225.71,111.76 L225.99,111.74 L226.27,111.72 L226.54,111.70 L226.82,111.68 L227.10,111.67 L227.38,111.65 L227.66,111.63 L227.94,111.61 L228.22,111.60 L228.49,111.58 L228.77,111.56 L229.05,111.54 L229.33,111.53 L229.61,111.51 L229.89,111.49 L230.16,111.48 L230.44,111.46 L230.72,111.44 L231.00,111.43 L231.28,111.41 L231.56,111.40 L231.84,111.38 L232.11,111.37 L232.39,111.35 L232.67,111.33 L232.95,111.32 L233.23,111.30 L233.51,111.29 L233.78,111.27 L234.06,111.26 L234.34,111.24 L234.62,111.23 L234.90,111.22 L235.18,111.20 L235.46,111.19 L235.73,111.17 L236.01,111.16 L236.29,111.15 L236.57,111.13 L236.85,111.12 L237.13,111.11 L237.40,111.09 L237.68,111.08 L237.96,111.07 L238.24,111.05 L238.52,111.04 L238.80,111.03 L239.08,111.02 L239.35,111.00 L239.63,110.99 L239.91,110.98 L240.19,110.97 L240.47,110.96 L240.75,110.94 L241.02,110.93 L241.30,110.92 L241.58,110.91 L241.86,110.90" fill="none" stroke="#8fb032" stroke-width="1.9" stroke-linejoin="miter"/>
<path d="M40.50,345.50 L56.40,345.50 L56.68,343.46 L56.96,340.78 L57.24,338.18 L57.52,335.64 L57.79,333.17 L58.07,330.77 L58.35,328.43 L58.63,326.15 L58.91,323.92 L59.19,321.74 L59.46,319.62 L59.74,317.54 L60.02,315.51 L60.30,313.53 L60.58,311.59 L60.86,309.68 L61.14,307.82 L61.41,306.00 L61.69,304.21 L61.97,302.45 L62.25,300.73 L62.53,299.04 L62.81,297.38 L63.08,295.75 L63.36,294.15 L63.64,292.58 L63.92,291.04 L64.20,289.52 L64.48,288.02 L64.76,286.55 L65.03,285.10 L65.31,283.68 L65.59,282.27 L65.87,280.89 L66.15,279.53 L66.43,278.19 L66.70,276.87 L66.98,275.57 L67.26,274.28 L67.54,273.01 L67.82,271.77 L68.10,270.53 L68.38,269.32 L68.65,268.12 L68.93,266.93 L69.21,265.76 L69.49,264.61 L69.77,263.47 L70.05,262.34 L70.32,261.23 L70.60,260.13 L70.88,259.05 L71.16,257.98 L71.44,256.92 L71.72,255.87 L72.00,254.84 L72.27,253.81 L72.55,252.80 L72.83,251.80 L73.11,250.81 L73.39,249.84 L73.67,248.87 L73.94,247.91 L74.22,246.97 L74.50,246.03 L74.78,245.11 L75.06,244.19 L75.34,243.28 L75.62,242.39 L75.89,241.50 L76.17,240.62 L76.45,239.75 L76.73,238.89 L77.01,238.04 L77.29,237.20 L77.56,236.36 L77.84,235.53 L78.12,234.72 L78.40,233.91 L78.68,233.10 L78.96,232.31 L79.24,231.52 L79.51,230.74 L79.79,229.97 L80.07,229.21 L80.35,228.45 L80.63,227.70 L80.91,226.96 L81.18,226.22 L81.46,225.49 L81.74,224.77 L82.02,224.06 L82.30,223.35 L82.58,222.65 L82.86,221.95 L83.13,221.26 L83.41,220.58 L83.69,219.90 L83.97,219.23 L84.25,218.56 L84.53,217.90 L84.80,217.25 L85.08,216.60 L85.36,215.96 L85.64,215.33 L85.92,214.70 L86.20,214.07 L86.48,213.45 L86.75,212.84 L87.03,212.23 L87.31,211.63 L87.59,211.03 L87.87,210.43 L88.15,209.85 L88.43,209.26 L88.70,208.68 L88.98,208.11 L89.26,207.54 L89.54,206.98 L89.82,206.42 L90.10,205.86 L90.37,205.31 L90.65,204.77 L90.93,204.23 L91.21,203.69 L91.49,203.16 L91.77,202.63 L92.05,202.11 L92.32,201.59 L92.60,201.08 L92.88,200.57 L93.16,200.06 L93.44,199.56 L93.72,199.06 L93.99,198.56 L94.27,198.07 L94.55,197.59 L94.83,197.10 L95.11,196.62 L95.39,196.15 L95.67,195.68 L95.94,195.21 L96.22,194.74 L96.50,194.28 L96.78,193.83 L97.06,193.37 L97.34,192.92 L97.61,192.48 L97.89,192.03 L98.17,191.59 L98.45,191.16 L98.73,190.72 L99.01,190.29 L99.29,189.87 L99.56,189.44 L99.84,189.02 L100.12,188.61 L100.40,188.19 L100.68,187.78 L100.96,187.37 L101.23,186.97 L101.51,186.57 L101.79,186.17 L102.07,185.77 L102.35,185.38 L102.63,184.99 L102.91,184.60 L103.18,184.22 L103.46,183.83 L103.74,183.46 L104.02,183.08 L104.30,182.71 L104.58,182.33 L104.85,181.97 L105.13,181.60 L105.41,181.24 L105.69,180.88 L105.97,180.52 L106.25,180.16 L106.53,179.81 L106.80,179.46 L107.08,179.11 L107.36,178.77 L107.64,178.42 L107.92,178.08 L108.20,177.74 L108.47,177.41 L108.75,177.07 L109.03,176.74 L109.31,176.41 L109.59,176.08 L109.87,175.76 L110.15,175.44 L110.42,175.12 L110.70,174.80 L110.98,174.48 L111.26,174.17 L111.54,173.86 L111.82,173.55 L112.09,173.24 L112.37,172.93 L112.65,172.63 L112.93,172.33 L113.21,172.03 L113.49,171.73 L113.77,171.43 L114.04,171.14 L114.32,170.85 L114.60,170.56 L114.88,170.27 L115.16,169.98 L115.44,169.70 L115.71,169.42 L115.99,169.13 L116.27,168.86 L116.55,168.58 L116.83,168.30 L117.11,168.03 L117.39,167.76 L117.66,167.49 L117.94,167.22 L118.22,166.95 L118.50,166.69 L118.78,166.42 L119.06,166.16 L119.33,165.90 L119.61,165.64 L119.89,165.39 L120.17,165.13 L120.45,164.88 L120.73,164.63 L121.01,164.37 L121.28,164.13 L121.56,163.88 L121.84,163.63 L122.12,163.39 L122.40,163.14 L122.68,162.90 L122.95,162.66 L123.23,162.42 L123.51,162.19 L123.79,161.95 L124.07,161.72 L124.35,161.49 L124.63,161.25 L124.90,161.02 L125.18,160.79 L125.46,160.57 L125.74,160.34 L126.02,160.12 L126.30,159.89 L126.57,159.67 L126.85,159.45 L127.13,159.23 L127.41,159.01 L127.69,158.80 L127.97,158.58 L128.25,158.37 L128.52,158.15 L128.80,157.94 L129.08,157.73 L129.36,157.52 L129.64,157.32 L129.92,157.11 L130.19,156.90 L130.47,156.70 L130.75,156.50 L131.03,156.29 L131.31,156.09 L131.59,155.89 L131.87,155.69 L132.14,155.50 L132.42,155.30 L132.70,155.10 L132.98,154.91 L133.26,154.72 L133.54,154.53 L133.82,154.33 L134.09,154.14 L134.37,153.96 L134.65,153.77 L134.93,153.58 L135.21,153.40 L135.49,153.21 L135.76,153.03 L136.04,152.85 L136.32,152.66 L136.60,152.48 L136.88,152.30 L137.16,152.13 L137.44,151.95 L137.71,151.77 L137.99,151.60 L138.27,151.42 L138.55,151.25 L138.83,151.08 L139.11,150.90 L139.38,150.73 L139.66,150.56 L139.94,150.39 L140.22,150.23 L140.50,150.06 L140.78,149.89 L141.06,149.73 L141.33,149.56 L141.61,149.40 L141.89,149.24 L142.17,149.08 L142.45,148.91 L142.73,148.75 L143.00,148.60 L143.28,148.44 L143.56,148.28 L143.84,148.12 L144.12,147.97 L144.40,147.81 L144.68,147.66 L144.95,147.50 L145.23,147.35 L145.51,147.20 L145.79,147.05 L146.07,146.90 L146.35,146.75 L146.62,146.60 L146.90,146.45 L147.18,146.31 L147.46,146.16 L147.74,146.01 L148.02,145.87 L148.30,145.73 L148.57,145.58 L148.85,145.44 L149.13,145.30 L149.41,145.16 L149.69,145.02 L149.97,144.88 L150.24,144.74 L150.52,144.60 L150.80,144.46 L151.08,144.33 L151.36,144.19 L151.64,144.05 L151.92,143.92 L152.19,143.79 L152.47,143.65 L152.75,143.52 L153.03,143.39 L153.31,143.26 L153.59,143.13 L153.86,143.00 L154.14,142.87 L154.42,142.74 L154.70,142.61 L154.98,142.48 L155.26,142.36 L155.54,142.23 L155.81,142.11 L156.09,141.98 L156.37,141.86 L156.65,141.73 L156.93,141.61 L157.21,141.49 L157.48,141.37 L157.76,141.25 L158.04,141.12 L158.32,141.00 L158.60,140.89 L158.88,140.77 L159.16,140.65 L159.43,140.53 L159.71,140.41 L159.99,140.30 L160.27,140.18 L160.55,140.07 L160.83,139.95 L161.10,139.84 L161.38,139.73 L161.66,139.61 L161.94,139.50 L162.22,139.39 L162.50,139.28 L162.78,139.17 L163.05,139.06 L163.33,138.95 L163.61,138.84 L163.89,138.73 L164.17,138.62 L164.45,138.51 L164.72,138.41 L165.00,138.30 L165.28,138.19 L165.56,138.09 L165.84,137.98 L166.12,137.88 L166.40,137.78 L166.67,137.67 L166.95,137.57 L167.23,137.47 L167.51,137.37 L167.79,137.26 L168.07,137.16 L168.34,137.06 L168.62,136.96 L168.90,136.86 L169.18,136.76 L169.46,136.67 L169.74,136.57 L170.02,136.47 L170.29,136.37 L170.57,136.28 L170.85,136.18 L171.13,136.08 L171.41,135.99 L171.69,135.89 L171.96,135.80 L172.24,135.71 L172.52,135.61 L172.80,135.52 L173.08,135.43 L173.36,135.34 L173.64,135.24 L173.91,135.15 L174.19,135.06 L174.47,134.97 L174.75,134.88 L175.03,134.79 L175.31,134.70 L175.59,134.61 L175.86,134.53 L176.14,134.44 L176.42,134.35 L176.70,134.26 L176.98,134.18 L177.26,134.09 L177.53,134.01 L177.81,133.92 L178.09,133.84 L178.37,133.75 L178.65,133.67 L178.93,133.58 L179.21,133.50 L179.48,133.42 L179.76,133.33 L180.04,133.25 L180.32,133.17 L180.60,133.09 L180.88,133.01 L181.15,132.93 L181.43,132.85 L181.71,132.77 L181.99,132.69 L182.27,132.61 L182.55,132.53 L182.83,132.45 L183.10,132.37 L183.38,132.30 L183.66,132.22 L183.94,132.14 L184.22,132.07 L184.50,131.99 L184.77,131.91 L185.05,131.84 L185.33,131.76 L185.61,131.69 L185.89,131.62 L186.17,131.54 L186.45,131.47 L186.72,131.39 L187.00,131.32 L187.28,131.25 L187.56,131.18 L187.84,131.10 L188.12,131.03 L188.39,130.96 L188.67,130.89 L188.95,130.82 L189.23,130.75 L189.51,130.68 L189.79,130.61 L190.07,130.54 L190.34,130.47 L190.62,130.40 L190.90,130.34 L191.18,130.27 L191.46,130.20 L191.74,130.13 L192.01,130.07 L192.29,130.00 L192.57,129.93 L192.85,129.87 L193.13,129.80 L193.41,129.73 L193.69,129.67 L193.96,129.61 L194.24,129.54 L194.52,129.48 L194.80,129.41 L195.08,129.35 L195.36,129.29 L195.63,129.22 L195.91,129.16 L196.19,129.10 L196.47,129.04 L196.75,128.97 L197.03,128.91 L197.31,128.85 L197.58,128.79 L197.86,128.73 L198.14,128.67 L198.42,128.61 L198.70,128.55 L198.98,128.49 L199.25,128.43 L199.53,128.37 L199.81,128.31 L200.09,128.25 L200.37,128.20 L200.65,128.14 L200.93,128.08 L201.20,128.02 L201.48,127.97 L201.76,127.91 L202.04,127.85 L202.32,127.80 L202.60,127.74 L202.87,127.69 L203.15,127.63 L203.43,127.57 L203.71,127.52 L203.99,127.47 L204.27,127.41 L204.55,127.36 L204.82,127.30 L205.10,127.25 L205.38,127.20 L205.66,127.14 L205.94,127.09 L206.22,127.04 L206.49,126.99 L206.77,126.93 L207.05,126.88 L207.33,126.83 L207.61,126.78 L207.89,126.73 L208.17,126.68 L208.44,126.63 L208.72,126.58 L209.00,126.53 L209.28,126.48 L209.56,126.43 L209.84,126.38 L210.11,126.33 L210.39,126.28 L210.67,126.23 L210.95,126.18 L211.23,126.13 L211.51,126.09 L211.79,126.04 L212.06,125.99 L212.34,125.94 L212.62,125.90 L212.90,125.85 L213.18,125.80 L213.46,125.76 L213.73,125.71 L214.01,125.67 L214.29,125.62 L214.57,125.57 L214.85,125.53 L215.13,125.48 L215.41,125.44 L215.68,125.39 L215.96,125.35 L216.24,125.31 L216.52,125.26 L216.80,125.22 L217.08,125.18 L217.35,125.13 L217.63,125.09 L217.91,125.05 L218.19,125.00 L218.47,124.96 L218.75,124.92 L219.03,124.88 L219.30,124.84 L219.58,124.79 L219.86,124.75 L220.14,124.71 L220.42,124.67 L220.70,124.63 L220.98,124.59 L221.25,124.55 L221.53,124.51 L221.81,124.47 L222.09,124.43 L222.37,124.39 L222.65,124.35 L222.92,124.31 L223.20,124.27 L223.48,124.24 L223.76,124.20 L224.04,124.16 L224.32,124.12 L224.60,124.08 L224.87,124.05 L225.15,124.01 L225.43,123.97 L225.71,123.93 L225.99,123.90 L226.27,123.86 L226.54,123.82 L226.82,123.79 L227.10,123.75 L227.38,123.72 L227.66,123.68 L227.94,123.65 L228.22,123.61 L228.49,123.57 L228.77,123.54 L229.05,123.50 L229.33,123.47 L229.61,123.44 L229.89,123.40 L230.16,123.37 L230.44,123.33 L230.72,123.30 L231.00,123.27 L231.28,123.23 L231.56,123.20 L231.84,123.17 L232.11,123.13 L232.39,123.10 L232.67,123.07 L232.95,123.04 L233.23,123.01 L233.51,122.97 L233.78,122.94 L234.06,122.91 L234.34,122.88 L234.62,122.85 L234.90,122.82 L235.18,122.79 L235.46,122.76 L235.73,122.73 L236.01,122.69 L236.29,122.66 L236.57,122.63 L236.85,122.61 L237.13,122.58 L237.40,122.55 L237.68,122.52 L237.96,122.49 L238.24,122.46 L238.52,122.43 L238.80,122.40 L239.08,122.37 L239.35,122.34 L239.63,122.32 L239.91,122.29 L240.19,122.26 L240.47,122.23 L240.75,122.21 L241.02,122.18 L241.30,122.15 L241.58,122.12 L241.86,122.10" fill="none" stroke="#eb6235" stroke-width="1.9" stroke-linejoin="miter"/>
<path d="M40.50,345.50 L74.50,345.50 L74.78,343.79 L75.06,342.08 L75.34,340.39 L75.62,338.72 L75.89,337.08 L76.17,335.45 L76.45,333.85 L76.73,332.26 L77.01,330.70 L77.29,329.15 L77.56,327.63 L77.84,326.12 L78.12,324.63 L78.40,323.16 L78.68,321.71 L78.96,320.27 L79.24,318.85 L79.51,317.45 L79.79,316.07 L80.07,314.70 L80.35,313.34 L80.63,312.00 L80.91,310.68 L81.18,309.37 L81.46,308.08 L81.74,306.80 L82.02,305.53 L82.30,304.28 L82.58,303.04 L82.86,301.82 L83.13,300.61 L83.41,299.41 L83.69,298.22 L83.97,297.05 L84.25,295.89 L84.53,294.74 L84.80,293.61 L85.08,292.48 L85.36,291.37 L85.64,290.27 L85.92,289.18 L86.20,288.10 L86.48,287.03 L86.75,285.97 L87.03,284.93 L87.31,283.89 L87.59,282.87 L87.87,281.85 L88.15,280.84 L88.43,279.85 L88.70,278.86 L88.98,277.89 L89.26,276.92 L89.54,275.96 L89.82,275.01 L90.10,274.07 L90.37,273.14 L90.65,272.22 L90.93,271.31 L91.21,270.40 L91.49,269.51 L91.77,268.62 L92.05,267.74 L92.32,266.87 L92.60,266.00 L92.88,265.15 L93.16,264.30 L93.44,263.46 L93.72,262.63 L93.99,261.80 L94.27,260.98 L94.55,260.17 L94.83,259.37 L95.11,258.57 L95.39,257.78 L95.67,257.00 L95.94,256.22 L96.22,255.45 L96.50,254.69 L96.78,253.94 L97.06,253.19 L97.34,252.44 L97.61,251.71 L97.89,250.98 L98.17,250.25 L98.45,249.53 L98.73,248.82 L99.01,248.11 L99.29,247.41 L99.56,246.72 L99.84,246.03 L100.12,245.35 L100.40,244.67 L100.68,244.00 L100.96,243.33 L101.23,242.67 L101.51,242.01 L101.79,241.36 L102.07,240.72 L102.35,240.07 L102.63,239.44 L102.91,238.81 L103.18,238.18 L103.46,237.56 L103.74,236.95 L104.02,236.34 L104.30,235.73 L104.58,235.13 L104.85,234.53 L105.13,233.94 L105.41,233.35 L105.69,232.77 L105.97,232.19 L106.25,231.62 L106.53,231.05 L106.80,230.48 L107.08,229.92 L107.36,229.36 L107.64,228.81 L107.92,228.26 L108.20,227.71 L108.47,227.17 L108.75,226.64 L109.03,226.10 L109.31,225.57 L109.59,225.05 L109.87,224.53 L110.15,224.01 L110.42,223.49 L110.70,222.98 L110.98,222.48 L111.26,221.98 L111.54,221.48 L111.82,220.98 L112.09,220.49 L112.37,220.00 L112.65,219.51 L112.93,219.03 L113.21,218.55 L113.49,218.08 L113.77,217.61 L114.04,217.14 L114.32,216.67 L114.60,216.21 L114.88,215.75 L115.16,215.29 L115.44,214.84 L115.71,214.39 L115.99,213.94 L116.27,213.50 L116.55,213.06 L116.83,212.62 L117.11,212.19 L117.39,211.76 L117.66,211.33 L117.94,210.90 L118.22,210.48 L118.50,210.06 L118.78,209.64 L119.06,209.22 L119.33,208.81 L119.61,208.40 L119.89,208.00 L120.17,207.59 L120.45,207.19 L120.73,206.79 L121.01,206.39 L121.28,206.00 L121.56,205.61 L121.84,205.22 L122.12,204.83 L122.40,204.45 L122.68,204.07 L122.95,203.69 L123.23,203.31 L123.51,202.94 L123.79,202.57 L124.07,202.20 L124.35,201.83 L124.63,201.47 L124.90,201.10 L125.18,200.74 L125.46,200.38 L125.74,200.03 L126.02,199.67 L126.30,199.32 L126.57,198.97 L126.85,198.63 L127.13,198.28 L127.41,197.94 L127.69,197.60 L127.97,197.26 L128.25,196.92 L128.52,196.59 L128.80,196.25 L129.08,195.92 L129.36,195.59 L129.64,195.27 L129.92,194.94 L130.19,194.62 L130.47,194.30 L130.75,193.98 L131.03,193.66 L131.31,193.34 L131.59,193.03 L131.87,192.72 L132.14,192.41 L132.42,192.10 L132.70,191.79 L132.98,191.49 L133.26,191.19 L133.54,190.89 L133.82,190.59 L134.09,190.29 L134.37,189.99 L134.65,189.70 L134.93,189.41 L135.21,189.12 L135.49,188.83 L135.76,188.54 L136.04,188.25 L136.32,187.97 L136.60,187.69 L136.88,187.40 L137.16,187.12 L137.44,186.85 L137.71,186.57 L137.99,186.30 L138.27,186.02 L138.55,185.75 L138.83,185.48 L139.11,185.21 L139.38,184.94 L139.66,184.68 L139.94,184.41 L140.22,184.15 L140.50,183.89 L140.78,183.63 L141.06,183.37 L141.33,183.11 L141.61,182.86 L141.89,182.60 L142.17,182.35 L142.45,182.10 L142.73,181.85 L143.00,181.60 L143.28,181.35 L143.56,181.10 L143.84,180.86 L144.12,180.61 L144.40,180.37 L144.68,180.13 L144.95,179.89 L145.23,179.65 L145.51,179.41 L145.79,179.18 L146.07,178.94 L146.35,178.71 L146.62,178.48 L146.90,178.25 L147.18,178.02 L147.46,177.79 L147.74,177.56 L148.02,177.33 L148.30,177.11 L148.57,176.88 L148.85,176.66 L149.13,176.44 L149.41,176.22 L149.69,176.00 L149.97,175.78 L150.24,175.56 L150.52,175.35 L150.80,175.13 L151.08,174.92 L151.36,174.70 L151.64,174.49 L151.92,174.28 L152.19,174.07 L152.47,173.86 L152.75,173.66 L153.03,173.45 L153.31,173.24 L153.59,173.04 L153.86,172.84 L154.14,172.63 L154.42,172.43 L154.70,172.23 L154.98,172.03 L155.26,171.84 L155.54,171.64 L155.81,171.44 L156.09,171.25 L156.37,171.05 L156.65,170.86 L156.93,170.67 L157.21,170.47 L157.48,170.28 L157.76,170.09 L158.04,169.90 L158.32,169.72 L158.60,169.53 L158.88,169.34 L159.16,169.16 L159.43,168.97 L159.71,168.79 L159.99,168.61 L160.27,168.43 L160.55,168.25 L160.83,168.07 L161.10,167.89 L161.38,167.71 L161.66,167.53 L161.94,167.36 L162.22,167.18 L162.50,167.01 L162.78,166.83 L163.05,166.66 L163.33,166.49 L163.61,166.32 L163.89,166.14 L164.17,165.98 L164.45,165.81 L164.72,165.64 L165.00,165.47 L165.28,165.30 L165.56,165.14 L165.84,164.97 L166.12,164.81 L166.40,164.65 L166.67,164.48 L166.95,164.32 L167.23,164.16 L167.51,164.00 L167.79,163.84 L168.07,163.68 L168.34,163.52 L168.62,163.37 L168.90,163.21 L169.18,163.05 L169.46,162.90 L169.74,162.74 L170.02,162.59 L170.29,162.44 L170.57,162.28 L170.85,162.13 L171.13,161.98 L171.41,161.83 L171.69,161.68 L171.96,161.53 L172.24,161.38 L172.52,161.24 L172.80,161.09 L173.08,160.94 L173.36,160.80 L173.64,160.65 L173.91,160.51 L174.19,160.37 L174.47,160.22 L174.75,160.08 L175.03,159.94 L175.31,159.80 L175.59,159.66 L175.86,159.52 L176.14,159.38 L176.42,159.24 L176.70,159.10 L176.98,158.96 L177.26,158.83 L177.53,158.69 L177.81,158.56 L178.09,158.42 L178.37,158.29 L178.65,158.15 L178.93,158.02 L179.21,157.89 L179.48,157.76 L179.76,157.63 L180.04,157.50 L180.32,157.37 L180.60,157.24 L180.88,157.11 L181.15,156.98 L181.43,156.85 L181.71,156.72 L181.99,156.60 L182.27,156.47 L182.55,156.35 L182.83,156.22 L183.10,156.10 L183.38,155.97 L183.66,155.85 L183.94,155.73 L184.22,155.60 L184.50,155.48 L184.77,155.36 L185.05,155.24 L185.33,155.12 L185.61,155.00 L185.89,154.88 L186.17,154.76 L186.45,154.65 L186.72,154.53 L187.00,154.41 L187.28,154.30 L187.56,154.18 L187.84,154.06 L188.12,153.95 L188.39,153.84 L188.67,153.72 L188.95,153.61 L189.23,153.49 L189.51,153.38 L189.79,153.27 L190.07,153.16 L190.34,153.05 L190.62,152.94 L190.90,152.83 L191.18,152.72 L191.46,152.61 L191.74,152.50 L192.01,152.39 L192.29,152.28 L192.57,152.18 L192.85,152.07 L193.13,151.96 L193.41,151.86 L193.69,151.75 L193.96,151.65 L194.24,151.54 L194.52,151.44 L194.80,151.34 L195.08,151.23 L195.36,151.13 L195.63,151.03 L195.91,150.93 L196.19,150.83 L196.47,150.72 L196.75,150.62 L197.03,150.52 L197.31,150.42 L197.58,150.32 L197.86,150.23 L198.14,150.13 L198.42,150.03 L198.70,149.93 L198.98,149.84 L199.25,149.74 L199.53,149.64 L199.81,149.55 L200.09,149.45 L200.37,149.36 L200.65,149.26 L200.93,149.17 L201.20,149.07 L201.48,148.98 L201.76,148.89 L202.04,148.79 L202.32,148.70 L202.60,148.61 L202.87,148.52 L203.15,148.43 L203.43,148.34 L203.71,148.25 L203.99,148.16 L204.27,148.07 L204.55,147.98 L204.82,147.89 L205.10,147.80 L205.38,147.71 L205.66,147.63 L205.94,147.54 L206.22,147.45 L206.49,147.36 L206.77,147.28 L207.05,147.19 L207.33,147.11 L207.61,147.02 L207.89,146.94 L208.17,146.85 L208.44,146.77 L208.72,146.69 L209.00,146.60 L209.28,146.52 L209.56,146.44 L209.84,146.35 L210.11,146.27 L210.39,146.19 L210.67,146.11 L210.95,146.03 L211.23,145.95 L211.51,145.87 L211.79,145.79 L212.06,145.71 L212.34,145.63 L212.62,145.55 L212.90,145.47 L213.18,145.39 L213.46,145.32 L213.73,145.24 L214.01,145.16 L214.29,145.08 L214.57,145.01 L214.85,144.93 L215.13,144.86 L215.41,144.78 L215.68,144.71 L215.96,144.63 L216.24,144.56 L216.52,144.48 L216.80,144.41 L217.08,144.33 L217.35,144.26 L217.63,144.19 L217.91,144.11 L218.19,144.04 L218.47,143.97 L218.75,143.90 L219.03,143.83 L219.30,143.76 L219.58,143.68 L219.86,143.61 L220.14,143.54 L220.42,143.47 L220.70,143.40 L220.98,143.33 L221.25,143.27 L221.53,143.20 L221.81,143.13 L222.09,143.06 L222.37,142.99 L222.65,142.92 L222.92,142.86 L223.20,142.79 L223.48,142.72 L223.76,142.66 L224.04,142.59 L224.32,142.52 L224.60,142.46 L224.87,142.39 L225.15,142.33 L225.43,142.26 L225.71,142.20 L225.99,142.14 L226.27,142.07 L226.54,142.01 L226.82,141.94 L227.10,141.88 L227.38,141.82 L227.66,141.76 L227.94,141.69 L228.22,141.63 L228.49,141.57 L228.77,141.51 L229.05,141.45 L229.33,141.39 L229.61,141.32 L229.89,141.26 L230.16,141.20 L230.44,141.14 L230.72,141.08 L231.00,141.02 L231.28,140.97 L231.56,140.91 L231.84,140.85 L232.11,140.79 L232.39,140.73 L232.67,140.67 L232.95,140.62 L233.23,140.56 L233.51,140.50 L233.78,140.44 L234.06,140.39 L234.34,140.33 L234.62,140.27 L234.90,140.22 L235.18,140.16 L235.46,140.11 L235.73,140.05 L236.01,140.00 L236.29,139.94 L236.57,139.89 L236.85,139.83 L237.13,139.78 L237.40,139.73 L237.68,139.67 L237.96,139.62 L238.24,139.57 L238.52,139.51 L238.80,139.46 L239.08,139.41 L239.35,139.36 L239.63,139.30 L239.91,139.25 L240.19,139.20 L240.47,139.15 L240.75,139.10 L241.02,139.05 L241.30,139.00 L241.58,138.95 L241.86,138.90" fill="none" stroke="#8778b3" stroke-width="1.9" stroke-linejoin="miter"/>
</g>
<line x1="40.5" y1="143.95" x2="309.0" y2="143.95" stroke="#000" stroke-opacity="0.4" stroke-width="1.3"/>
<line x1="241.86" y1="8.08" x2="241.86" y2="278.6" stroke="#ff0000" stroke-width="2" stroke-dasharray="5.65 1.6"/>
<rect x="40.5" y="9.45" width="268.5" height="268.85" fill="none" stroke="#111" stroke-width="0.55"/>
<g stroke="#222" stroke-width="0.5"><line x1="40.50" y1="278.3" x2="40.50" y2="274.7"/><line x1="40.50" y1="9.45" x2="40.50" y2="13.049999999999999"/><line x1="57.28" y1="278.3" x2="57.28" y2="276.1"/><line x1="57.28" y1="9.45" x2="57.28" y2="11.649999999999999"/><line x1="74.06" y1="278.3" x2="74.06" y2="276.1"/><line x1="74.06" y1="9.45" x2="74.06" y2="11.649999999999999"/><line x1="90.84" y1="278.3" x2="90.84" y2="276.1"/><line x1="90.84" y1="9.45" x2="90.84" y2="11.649999999999999"/><line x1="107.62" y1="278.3" x2="107.62" y2="274.7"/><line x1="107.62" y1="9.45" x2="107.62" y2="13.049999999999999"/><line x1="124.40" y1="278.3" x2="124.40" y2="276.1"/><line x1="124.40" y1="9.45" x2="124.40" y2="11.649999999999999"/><line x1="141.18" y1="278.3" x2="141.18" y2="276.1"/><line x1="141.18" y1="9.45" x2="141.18" y2="11.649999999999999"/><line x1="157.96" y1="278.3" x2="157.96" y2="276.1"/><line x1="157.96" y1="9.45" x2="157.96" y2="11.649999999999999"/><line x1="174.74" y1="278.3" x2="174.74" y2="274.7"/><line x1="174.74" y1="9.45" x2="174.74" y2="13.049999999999999"/><line x1="191.52" y1="278.3" x2="191.52" y2="276.1"/><line x1="191.52" y1="9.45" x2="191.52" y2="11.649999999999999"/><line x1="208.30" y1="278.3" x2="208.30" y2="276.1"/><line x1="208.30" y1="9.45" x2="208.30" y2="11.649999999999999"/><line x1="225.08" y1="278.3" x2="225.08" y2="276.1"/><line x1="225.08" y1="9.45" x2="225.08" y2="11.649999999999999"/><line x1="241.86" y1="278.3" x2="241.86" y2="274.7"/><line x1="241.86" y1="9.45" x2="241.86" y2="13.049999999999999"/><line x1="258.64" y1="278.3" x2="258.64" y2="276.1"/><line x1="258.64" y1="9.45" x2="258.64" y2="11.649999999999999"/><line x1="275.42" y1="278.3" x2="275.42" y2="276.1"/><line x1="275.42" y1="9.45" x2="275.42" y2="11.649999999999999"/><line x1="292.20" y1="278.3" x2="292.20" y2="276.1"/><line x1="292.20" y1="9.45" x2="292.20" y2="11.649999999999999"/><line x1="308.98" y1="278.3" x2="308.98" y2="274.7"/><line x1="308.98" y1="9.45" x2="308.98" y2="13.049999999999999"/><line x1="40.5" y1="278.30" x2="44.1" y2="278.30"/><line x1="309.0" y1="278.30" x2="305.4" y2="278.30"/><line x1="40.5" y1="264.86" x2="42.7" y2="264.86"/><line x1="309.0" y1="264.86" x2="306.8" y2="264.86"/><line x1="40.5" y1="251.42" x2="42.7" y2="251.42"/><line x1="309.0" y1="251.42" x2="306.8" y2="251.42"/><line x1="40.5" y1="237.98" x2="42.7" y2="237.98"/><line x1="309.0" y1="237.98" x2="306.8" y2="237.98"/><line x1="40.5" y1="224.54" x2="42.7" y2="224.54"/><line x1="309.0" y1="224.54" x2="306.8" y2="224.54"/><line x1="40.5" y1="211.10" x2="44.1" y2="211.10"/><line x1="309.0" y1="211.10" x2="305.4" y2="211.10"/><line x1="40.5" y1="197.66" x2="42.7" y2="197.66"/><line x1="309.0" y1="197.66" x2="306.8" y2="197.66"/><line x1="40.5" y1="184.22" x2="42.7" y2="184.22"/><line x1="309.0" y1="184.22" x2="306.8" y2="184.22"/><line x1="40.5" y1="170.78" x2="42.7" y2="170.78"/><line x1="309.0" y1="170.78" x2="306.8" y2="170.78"/><line x1="40.5" y1="157.34" x2="42.7" y2="157.34"/><line x1="309.0" y1="157.34" x2="306.8" y2="157.34"/><line x1="40.5" y1="143.90" x2="44.1" y2="143.90"/><line x1="309.0" y1="143.90" x2="305.4" y2="143.90"/><line x1="40.5" y1="130.46" x2="42.7" y2="130.46"/><line x1="309.0" y1="130.46" x2="306.8" y2="130.46"/><line x1="40.5" y1="117.02" x2="42.7" y2="117.02"/><line x1="309.0" y1="117.02" x2="306.8" y2="117.02"/><line x1="40.5" y1="103.58" x2="42.7" y2="103.58"/><line x1="309.0" y1="103.58" x2="306.8" y2="103.58"/><line x1="40.5" y1="90.14" x2="42.7" y2="90.14"/><line x1="309.0" y1="90.14" x2="306.8" y2="90.14"/><line x1="40.5" y1="76.70" x2="44.1" y2="76.70"/><line x1="309.0" y1="76.70" x2="305.4" y2="76.70"/><line x1="40.5" y1="63.26" x2="42.7" y2="63.26"/><line x1="309.0" y1="63.26" x2="306.8" y2="63.26"/><line x1="40.5" y1="49.82" x2="42.7" y2="49.82"/><line x1="309.0" y1="49.82" x2="306.8" y2="49.82"/><line x1="40.5" y1="36.38" x2="42.7" y2="36.38"/><line x1="309.0" y1="36.38" x2="306.8" y2="36.38"/><line x1="40.5" y1="22.94" x2="42.7" y2="22.94"/><line x1="309.0" y1="22.94" x2="306.8" y2="22.94"/><line x1="40.5" y1="9.50" x2="44.1" y2="9.50"/><line x1="309.0" y1="9.50" x2="305.4" y2="9.50"/></g>
<g font-family="Liberation Sans, sans-serif" font-size="10.4" fill="#000" filter="url(#gs)"><text x="40.20" y="292.20" text-anchor="middle" transform="rotate(0.03 40.20 292.20)">0.0</text><text x="107.32" y="292.20" text-anchor="middle" transform="rotate(0.03 107.32 292.20)">0.2</text><text x="174.44" y="292.20" text-anchor="middle" transform="rotate(0.03 174.44 292.20)">0.4</text><text x="241.56" y="292.20" text-anchor="middle" transform="rotate(0.03 241.56 292.20)">0.6</text><text x="308.68" y="292.20" text-anchor="middle" transform="rotate(0.03 308.68 292.20)">0.8</text><text x="37.60" y="13.15" text-anchor="end" transform="rotate(0.03 37.60 13.15)">2</text><text x="37.60" y="80.35" text-anchor="end" transform="rotate(0.03 37.60 80.35)">1</text><text x="37.60" y="147.55" text-anchor="end" transform="rotate(0.03 37.60 147.55)">0</text><text x="37.60" y="214.75" text-anchor="end" transform="rotate(0.03 37.60 214.75)">1</text><rect x="25.3" y="210.90" width="5.6" height="0.95"/><text x="37.60" y="281.95" text-anchor="end" transform="rotate(0.03 37.60 281.95)">2</text><rect x="25.3" y="278.10" width="5.6" height="0.95"/><text x="174.80" y="313.60" text-anchor="middle" transform="rotate(0.03 174.80 313.60)">r</text><text x="0.70" y="147.55" textLength="17.7" lengthAdjust="spacing" transform="rotate(0.03 0.70 147.55)">N(r)</text></g>
<line x1="330" y1="119.9" x2="348.2" y2="119.9" stroke="#5e81b5" stroke-width="1.9"/><line x1="330" y1="139.4" x2="348.2" y2="139.4" stroke="#e19c24" stroke-width="1.9"/><line x1="330" y1="158.9" x2="348.2" y2="158.9" stroke="#8fb032" stroke-width="1.9"/><line x1="330" y1="178.4" x2="348.2" y2="178.4" stroke="#eb6235" stroke-width="1.9"/><line x1="330" y1="197.9" x2="348.2" y2="197.9" stroke="#8778b3" stroke-width="1.9"/>
<g font-family="Liberation Sans, sans-serif" font-size="10.4" fill="#000" filter="url(#gs)"><text x="355.00" y="123.00" word-spacing="0.3" transform="rotate(0.03 355.00 123.00)">m = 0.10</text><text x="355.00" y="142.50" word-spacing="0.3" transform="rotate(0.03 355.00 142.50)">m = 0.22</text><text x="355.00" y="162.00" word-spacing="0.3" transform="rotate(0.03 355.00 162.00)">m = 0.25</text><text x="355.00" y="181.50" word-spacing="0.3" transform="rotate(0.03 355.00 181.50)">m = 0.35</text><text x="355.00" y="201.00" word-spacing="0.3" transform="rotate(0.03 355.00 201.00)">m = 0.50</text></g>
</svg>
</body></html>
